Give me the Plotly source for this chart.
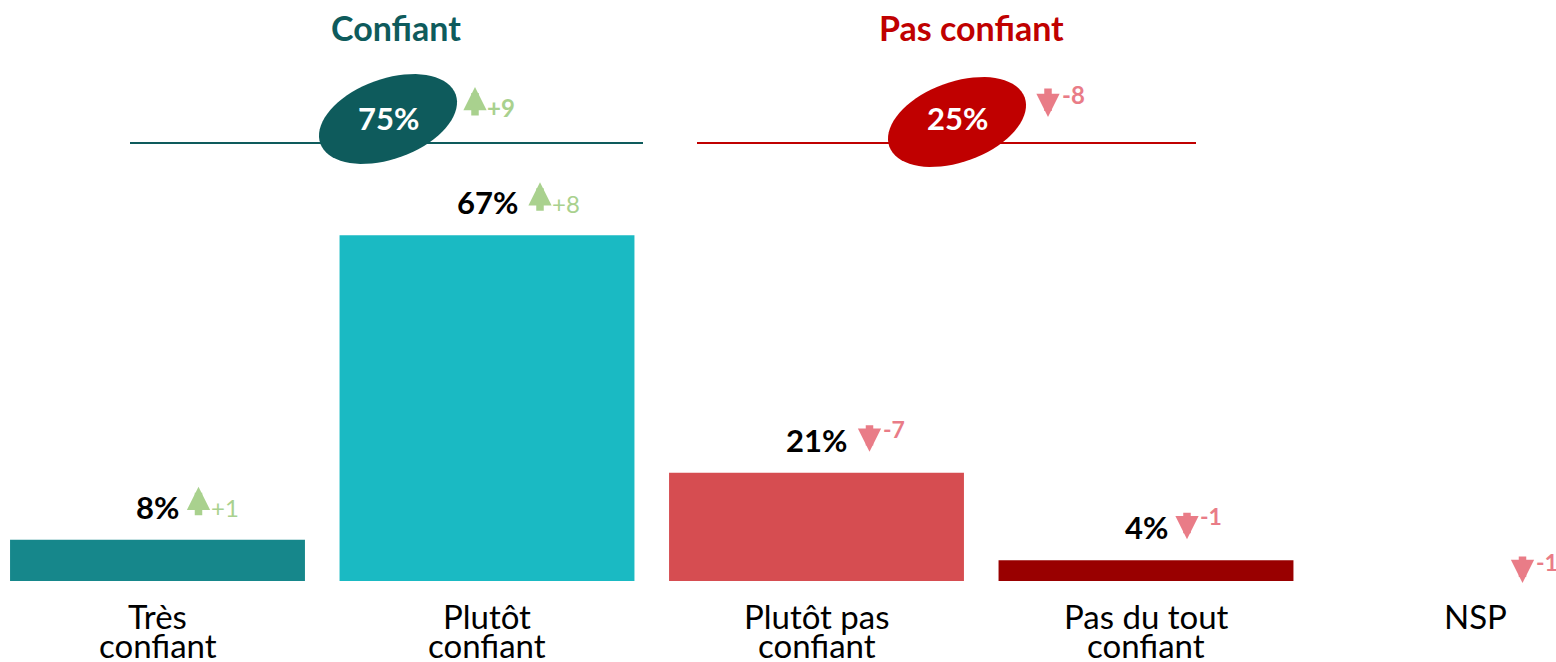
import math
import plotly.graph_objects as go

# ---------------- data ----------------
categories = ["Très confiant", "Plutôt confiant", "Plutôt pas confiant", "Pas du tout confiant", "NSP"]
label_line1 = ["Très", "Plutôt", "Plutôt pas", "Pas du tout", "NSP"]
label_line2 = ["confiant", "confiant", "confiant", "confiant", ""]
values = [8, 67, 21, 4, 0]
deltas = [1, 8, -7, -1, -1]
bar_colors = ["#16878B", "#1ABAC3", "#D64D51", "#990000", "#FFFFFF"]

group_names = ["Confiant", "Pas confiant"]
group_totals = [75, 25]
group_deltas = [9, -8]
group_colors = ["#0E5B5C", "#C00000"]

UP = "#A9D18E"
DOWN = "#E97C87"

# ---------------- geometry helpers ----------------
W, H = 1556, 662
BASE_PX = 581.0
PX_PER_UNIT = 5.16
CAT0_PX = 157.5
CAT_STEP = 329.5

def px(x):
    return x / W

def py(y):
    return 1 - y / H

fig = go.Figure()
fig.add_trace(go.Bar(
    x=list(range(len(categories))), y=values, width=0.895,
    marker=dict(color=bar_colors, line=dict(width=0)),
    hoverinfo="skip", showlegend=False,
))

ann = []
FONT = "Lato, Carlito, 'Open Sans', sans-serif"
ARW = dict(arrowhead=2, arrowsize=0.62, arrowwidth=7.5, standoff=0)
LBL = dict(family=FONT, size=33, color="#000000")

for i, (v, d) in enumerate(zip(values, deltas)):
    lab = f"{v}%"
    # category labels (two tight lines, like the original)
    ann.append(dict(x=i, y=0, xref="x", yref="y", text=label_line1[i], showarrow=False,
                    yshift=-35, font=LBL, xanchor="center", yanchor="middle"))
    if label_line2[i]:
        ann.append(dict(x=i, y=0, xref="x", yref="y", text=label_line2[i], showarrow=False,
                        yshift=-64, font=LBL, xanchor="center", yanchor="middle"))
    dx = 12 * len(lab) + 17
    if v > 0:
        ann.append(dict(x=i, y=v, xref="x", yref="y", text=f"<b>{lab}</b>", showarrow=False,
                        yshift=33, font=dict(family=FONT, size=31, color="#000000"),
                        xanchor="center", yanchor="middle"))
        mid = 33
    else:
        dx = 47
        mid = 8
    col = UP if d > 0 else DOWN
    if d > 0:
        tip = mid + 20
        ann.append(dict(x=i, y=v, xref="x", yref="y", text="", showarrow=True,
                        ax=0, ay=30, arrowcolor=col, xshift=dx, yshift=tip, **ARW))
        ann.append(dict(x=i, y=v, xref="x", yref="y", text=f"+{d}", showarrow=False,
                        xshift=dx + 10, yshift=mid - 1, font=dict(family=FONT, size=24, color=col),
                        xanchor="left", yanchor="middle"))
    else:
        tip = mid - 12 if v > 0 else -2
        ann.append(dict(x=i, y=v, xref="x", yref="y", text="", showarrow=True,
                        ax=0, ay=-28, arrowcolor=col, xshift=dx, yshift=tip, **ARW))
        ann.append(dict(x=i, y=v, xref="x", yref="y", text=f"<b>{d}</b>", showarrow=False,
                        xshift=dx + 11, yshift=(mid + 11) if v > 0 else 19,
                        font=dict(family=FONT, size=23, color=col),
                        xanchor="left", yanchor="middle"))

shapes = []
# group header decorations (pixel layout)
group_title_px = [396, 971]
group_line_px = [(130, 643), (697, 1196)]
group_ell_px = [(388, 119), (957, 122)]
LINE_Y = 143
for g in range(2):
    x0, x1 = group_line_px[g]
    shapes.append(dict(type="line", xref="paper", yref="paper",
                       x0=px(x0), x1=px(x1), y0=py(LINE_Y), y1=py(LINE_Y),
                       line=dict(color=group_colors[g], width=2)))
    cx, cy = group_ell_px[g]
    a, b, th = 72, 40, math.radians(20)
    pts = []
    for k in range(73):
        t = 2 * math.pi * k / 72
        ex = cx + a * math.cos(t) * math.cos(th) - b * math.sin(t) * math.sin(th)
        ey = cy - (a * math.cos(t) * math.sin(th) + b * math.sin(t) * math.cos(th))
        pts.append((px(ex), py(ey)))
    path = "M " + " L ".join(f"{x:.5f},{y:.5f}" for x, y in pts) + " Z"
    shapes.append(dict(type="path", xref="paper", yref="paper", path=path,
                       fillcolor=group_colors[g], line=dict(width=0)))
    ann.append(dict(x=px(group_title_px[g]), y=py(28), xref="paper", yref="paper",
                    text=f"<b>{group_names[g]}</b>", showarrow=False,
                    font=dict(family=FONT, size=34, color=group_colors[g]),
                    xanchor="center", yanchor="middle"))
    ann.append(dict(x=px(cx), y=py(118), xref="paper", yref="paper",
                    text=f"<b>{group_totals[g]}%</b>", showarrow=False,
                    font=dict(family=FONT, size=31, color="#FFFFFF"),
                    xanchor="center", yanchor="middle"))
    gd = group_deltas[g]
    ax_px = cx + (87 if gd > 0 else 91)
    if gd > 0:
        ann.append(dict(x=px(ax_px), y=py(87), xref="paper", yref="paper", text="",
                        showarrow=True, ax=0, ay=30, arrowcolor=UP, **ARW))
        ann.append(dict(x=px(ax_px + 10), y=py(108), xref="paper", yref="paper",
                        text=f"<b>+{gd}</b>", showarrow=False,
                        font=dict(family=FONT, size=24, color=UP),
                        xanchor="left", yanchor="middle"))
    else:
        ann.append(dict(x=px(ax_px), y=py(117), xref="paper", yref="paper", text="",
                        showarrow=True, ax=0, ay=-30, arrowcolor=DOWN, **ARW))
        ann.append(dict(x=px(ax_px + 12), y=py(95), xref="paper", yref="paper",
                        text=f"<b>{gd}</b>", showarrow=False,
                        font=dict(family=FONT, size=24, color=DOWN),
                        xanchor="left", yanchor="middle"))

fig.update_layout(
    width=W, height=H,
    margin=dict(l=0, r=0, t=0, b=0),
    paper_bgcolor="#FFFFFF", plot_bgcolor="#FFFFFF",
    xaxis=dict(range=[-CAT0_PX / CAT_STEP, (W - CAT0_PX) / CAT_STEP], visible=False, fixedrange=True),
    yaxis=dict(range=[-(H - BASE_PX) / PX_PER_UNIT, BASE_PX / PX_PER_UNIT], visible=False, fixedrange=True),
    annotations=ann, shapes=shapes, showlegend=False,
)
fig.write_html("out.html", config={"displayModeBar": False},
               post_script="document.body.style.margin='0';document.body.style.overflow='hidden';")
